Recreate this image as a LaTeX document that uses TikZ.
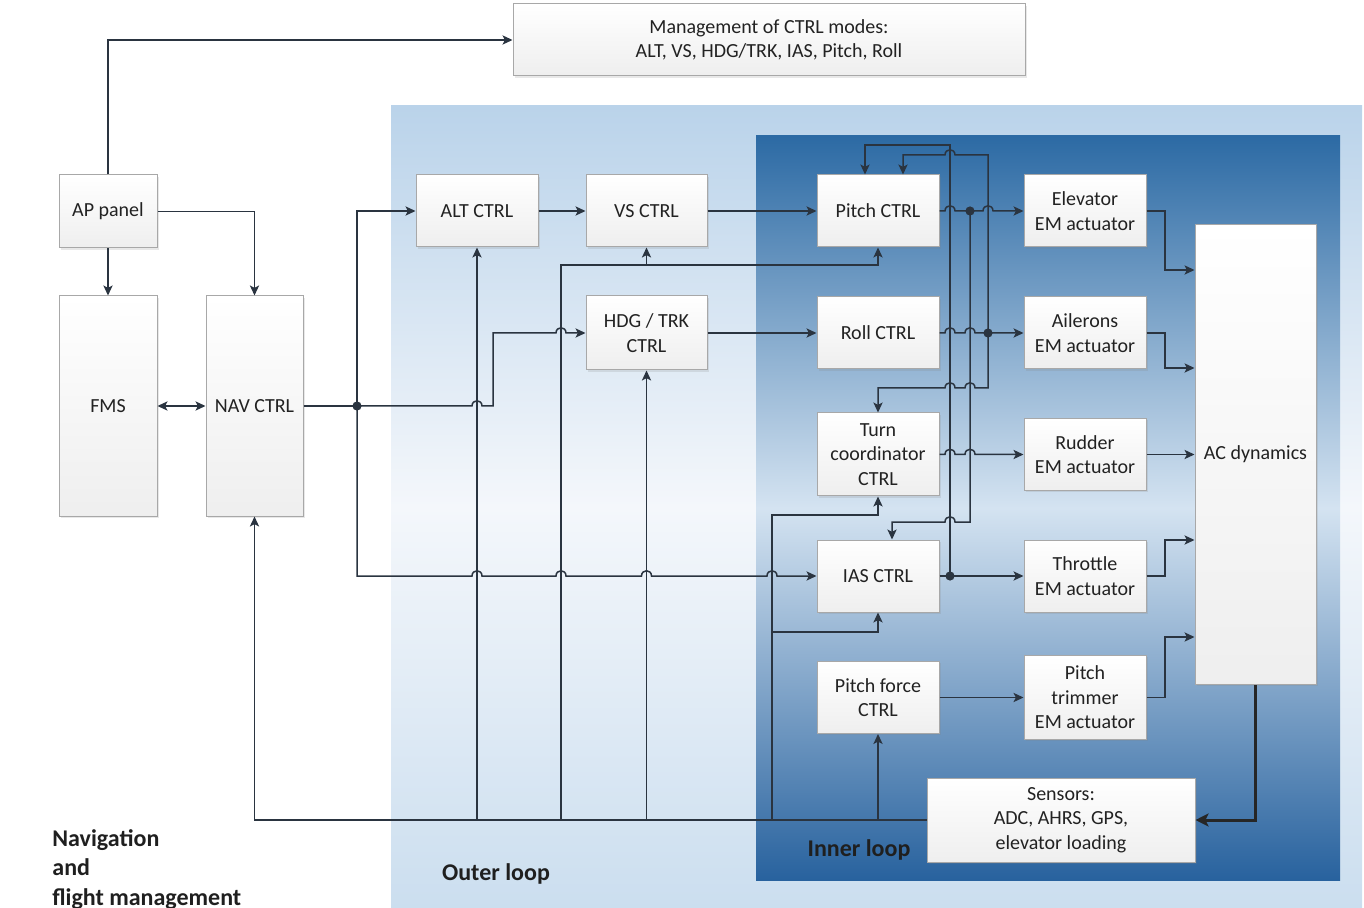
\documentclass[tikz,border=0pt]{standalone}
\usepackage{fontspec}
\setmainfont{Carlito}
\usetikzlibrary{arrows.meta,shadows}
\definecolor{wire}{RGB}{42,52,64}
\definecolor{txt}{RGB}{34,34,34}
\definecolor{outerTop}{RGB}{186,211,234}
\definecolor{outerMid}{RGB}{244,247,251}
\definecolor{outerBot}{RGB}{203,222,239}
\definecolor{innerTop}{RGB}{44,106,164}
\definecolor{innerMid}{RGB}{212,227,241}
\definecolor{innerBot}{RGB}{40,98,158}
\definecolor{boxline}{RGB}{168,168,168}

\begin{document}
\begin{tikzpicture}[x=0.5pt,y=-0.5pt,
  font=\fontsize{10}{12.2}\selectfont, text=txt,
  blk/.style 2 args={draw=boxline, line width=0.5pt, top color=white,
    bottom color=gray!13, align=center, inner sep=1pt,
    minimum width=#1*0.5pt, minimum height=#2*0.5pt,
    drop shadow={opacity=0.18, shadow xshift=0.8pt, shadow yshift=-0.8pt}},
  conn/.style={draw=wire, line width=0.75pt},
  arr/.style={conn, -{Stealth[length=5pt,width=4.6pt,inset=1.2pt]}},
  dot/.style={circle, fill=wire, inner sep=0pt, minimum size=4.6pt},
  lbl/.style={font=\fontsize{12}{14.7}\selectfont\bfseries, text=black!88},
  hopR/.style 2 args={insert path={-- ({#1-5},#2) .. controls ({#1-5},{#2-7}) and ({#1+5},{#2-7}) .. ({#1+5},#2)}},
  hopL/.style 2 args={insert path={-- ({#1+5},#2) .. controls ({#1+5},{#2-7}) and ({#1-5},{#2-7}) .. ({#1-5},#2)}},
]
\useasboundingbox (0,0) rectangle (1364,908);

% loop regions
\path[top color=outerTop, bottom color=outerBot, middle color=outerMid]
  (391,106) rectangle (1362,908);
\path[top color=innerTop, bottom color=innerBot, middle color=innerMid]
  (756,136) rectangle (1340,880);

% region labels
\node[lbl, align=left, anchor=north west, inner sep=0pt] (navlbl) at (52,829)
  {Navigation\\and\\flight management};
\node[lbl] (outerlbl) at (496,874) {Outer loop};
\node[lbl] (innerlbl) at (859,850) {Inner loop};

% blocks
\node[blk={512}{72}] (mgmt) at (769,40) {Management of CTRL modes:\\ALT, VS, HDG/TRK, IAS, Pitch, Roll};
\node[blk={98}{73}] (ap) at (108,211.5) {AP panel};
\node[blk={98}{220}] (fms) at (108,406) {FMS};
\node[blk={97}{220}] (nav) at (254.5,406) {NAV CTRL};
\node[blk={122}{72}] (alt) at (477,211) {ALT CTRL};
\node[blk={121}{72}] (vs) at (646.5,211) {VS CTRL};
\node[blk={121}{74}] (hdg) at (646.5,333) {HDG / TRK\\CTRL};
\node[blk={122}{72}] (pitch) at (878,211) {Pitch CTRL};
\node[blk={122}{72}] (roll) at (878,333) {Roll CTRL};
\node[blk={122}{83}] (turn) at (878,454.5) {Turn\\coordinator\\CTRL};
\node[blk={122}{72}] (ias) at (878,576) {IAS CTRL};
\node[blk={122}{72}] (pforce) at (878,697.5) {Pitch force\\CTRL};
\node[blk={122}{72}] (elev) at (1085,211) {Elevator\\EM actuator};
\node[blk={122}{72}] (ail) at (1085,333) {Ailerons\\EM actuator};
\node[blk={122}{72}] (rud) at (1085,454.5) {Rudder\\EM actuator};
\node[blk={122}{72}] (thr) at (1085,576) {Throttle\\EM actuator};
\node[blk={122}{84}] (trim) at (1085,697.5) {Pitch\\trimmer\\EM actuator};
\node[blk={121}{460}] (acd) at (1255.5,454.5) {AC dynamics};
\node[blk={268}{84}] (sens) at (1061,820) {Sensors:\\ADC, AHRS, GPS,\\elevator loading};

% junction points
\coordinate (cN) at (357,406);
\coordinate (cP) at (970,211);
\coordinate (cR) at (988,333);
\coordinate (cI) at (950,576);
\coordinate (tapB) at (561,820);
\coordinate (tapD) at (772,820);

% navigation and flight management
\draw[arr] (ap.north) |- (mgmt.west);
\draw[arr] (ap.south) -- (fms.north);
\draw[arr] (ap.east) -| (nav.north);
\draw[conn, {Stealth[length=5pt,width=4.6pt,inset=1.2pt]}-{Stealth[length=5pt,width=4.6pt,inset=1.2pt]}] (fms.east) -- (nav.west);

% outer loop
\draw[conn] (nav.east) -- (cN);
\draw[arr] (cN) |- (alt.west);
\draw[arr] (cN) [hopR={477}{406}] -- (493,406) -- (493,333) [hopR={561}{333}] -- (hdg.west);
\draw[arr] (cN) -- (357,576) [hopR={477}{576}] [hopR={561}{576}] [hopR={646.5}{576}] [hopR={772}{576}] -- (ias.west);
\draw[arr] (alt.east) -- (vs.west);
\draw[arr] (vs.east) -- (pitch.west);
\draw[arr] (hdg.east) -- (roll.west);

% sensor feedback
\draw[arr] (sens.west) -| (nav.south);
\draw[arr] (alt.south |- sens.west) -- (alt.south);
\draw[arr] (tapB) -- (561,265) -| (pitch.south);
\draw[arr] (vs.south |- 0,265) -- (vs.south);
\draw[arr] (hdg.south |- sens.west) -- (hdg.south);
\draw[arr] (tapD) -- (772,515) -| (turn.south);
\draw[arr] (772,632) -| (ias.south);
\draw[arr] (pforce.south |- sens.west) -- (pforce.south);

% inner loop
\draw[arr] (pitch.east) [hopR={950}{211}] -- (cP) [hopR={988}{211}] -- (elev.west);
\draw[arr] (cP) -- (970,522) [hopL={950}{522}] -| ([xshift=7pt]ias.north);
\draw[arr] (roll.east) [hopR={950}{333}] [hopR={970}{333}] -- (cR) -- (ail.west);
\draw[arr] (cR) -- (988,155) [hopL={950}{155}] -| ([xshift=12.5pt]pitch.north);
\draw[arr] (cR) -- (988,388) [hopL={970}{388}] [hopL={950}{388}] -| (turn.north);
\draw[arr] (turn.east) [hopR={950}{454.5}] [hopR={970}{454.5}] -- (rud.west);
\draw[arr] (ias.east) -- (cI) -- (thr.west);
\draw[arr] (cI) -- (950,145) -| ([xshift=-6.5pt]pitch.north);
\draw[arr] (pforce.east) -- (trim.west);

% actuators to aircraft dynamics
\draw[arr] (elev.east) -- (1165,211) |- (acd.west |- 0,270);
\draw[arr] (ail.east) -- (1165,333) |- (acd.west |- 0,368);
\draw[arr] (rud.east) -- (acd.west);
\draw[arr] (thr.east) -- (1165,576) |- (acd.west |- 0,540);
\draw[arr] (trim.east) -- (1165,697.5) |- (acd.west |- 0,637);
\draw[draw=black!85, line width=1.5pt, -{Stealth[length=6.5pt,width=6.5pt,inset=1.5pt]}] (acd.south) |- (sens.east);

% junction dots
\node[dot] (dotN) at (cN) {};
\node[dot] (dotP) at (cP) {};
\node[dot] (dotR) at (cR) {};
\node[dot] (dotI) at (cI) {};
\end{tikzpicture}
\end{document}
